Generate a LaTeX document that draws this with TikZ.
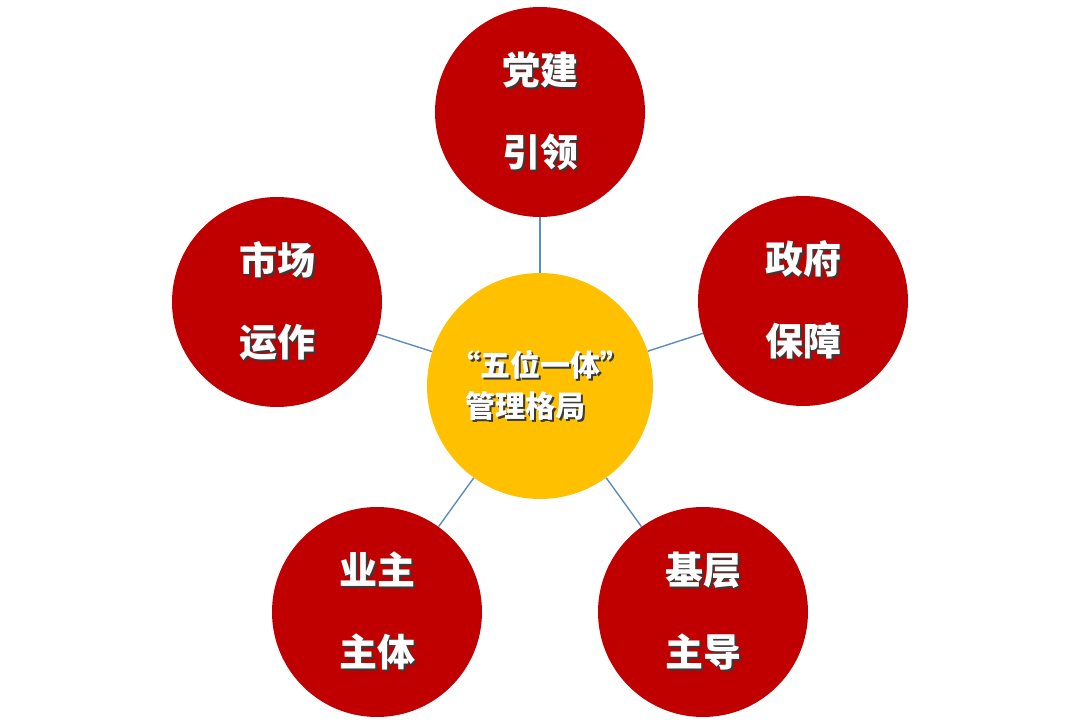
\documentclass[tikz,border=0pt]{standalone}
\usepackage{fontspec}
\newfontfamily\cjk{Noto Sans CJK SC}
\definecolor{ballred}{HTML}{C00000}
\definecolor{hubyellow}{HTML}{FFC000}
\definecolor{connblue}{HTML}{5B8DBE}
\definecolor{shadowgray}{HTML}{3A3A3A}
\newcommand\shd[1]{\mbox{\rlap{\kern2pt\raisebox{-2pt}{\textcolor{shadowgray}{#1}}}\textcolor{white}{#1}}}
\begin{document}
\begin{tikzpicture}[x=1pt,y=-1pt,
  redball/.style={circle, fill=ballred, minimum size=210pt, inner sep=0pt,
    align=center, font=\cjk\bfseries\fontsize{38}{82}\selectfont},
  hub/.style={circle, fill=hubyellow, minimum size=226pt, inner sep=0pt,
    align=left, font=\cjk\bfseries\fontsize{30}{41}\selectfont},
  conn/.style={draw=connblue, line width=1.4pt}]
\useasboundingbox[fill=white] (0,0) rectangle (1080,722);
\node[hub] (hub) at (540,386) {\shd{“五位一体”}\\\hspace*{15pt}\shd{管理格局}};
\node[redball] (dj) at (540,112) {\shd{党建}\\\shd{引领}};
\node[redball] (zf) at (803,301) {\shd{政府}\\\shd{保障}};
\node[redball] (sc) at (277,302) {\shd{市场}\\\shd{运作}};
\node[redball] (yz) at (377,612) {\shd{业主}\\\shd{主体}};
\node[redball] (jc) at (703,612) {\shd{基层}\\\shd{主导}};
\draw[conn] (hub) -- (dj);
\draw[conn] (hub) -- (zf);
\draw[conn] (hub) -- (sc);
\draw[conn] (hub) -- (yz);
\draw[conn] (hub) -- (jc);
\end{tikzpicture}
\end{document}
